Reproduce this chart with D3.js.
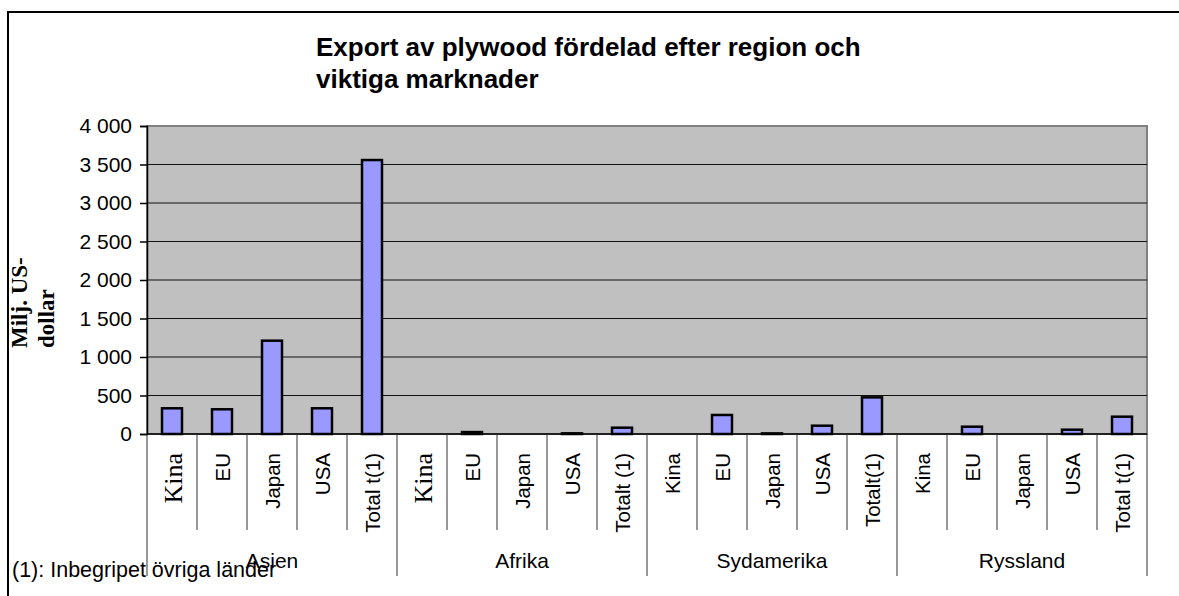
<html>
  <head>
    <script src="https://cdn.jsdelivr.net/npm/d3@7"></script>
    <meta charset="UTF-8">
    <style>
      body { margin: 0; background: #fff; }
      text { font-family: "Liberation Sans", Arial, sans-serif; fill: #000; }
    </style>
  </head>
  <body>
    <svg id="chart" width="1179" height="596"></svg>
    <script>
      // regioner och marknader
      var regions = ["Asien", "Afrika", "Sydamerika", "Ryssland"];
      var markets = [
        ["Kina", "EU", "Japan", "USA", "Total t(1)"],
        ["Kina", "EU", "Japan", "USA", "Totalt (1)"],
        ["Kina", "EU", "Japan", "USA", "Totalt(1)"],
        ["Kina", "EU", "Japan", "USA", "Total t(1)"]
      ];
      // Milj. US-dollar
      var asien = [334, 321, 1212, 334, 3558];
      var afrika = [0, 25, 0, 9, 82];
      var sydamerika = [0, 247, 8, 108, 476];
      var ryssland = [0, 95, 0, 56, 225];
      var values = [asien, afrika, sydamerika, ryssland];
      var yTicks = [0, 500, 1000, 1500, 2000, 2500, 3000, 3500, 4000];
      var title = ["Export av plywood fördelad efter region och", "viktiga marknader"];
      var footnote = "(1): Inbegripet övriga länder";

      var data = [];
      regions.forEach(function(r, ri) {
        markets[ri].forEach(function(m, mi) {
          data.push({ key: r + "|" + mi, region: r, ri: ri, label: m, value: values[ri][mi] });
        });
      });

      var svg = d3.select("#chart");
      var plotLeft = 147, plotRight = 1147, plotTop = 126, plotBottom = 434;

      var x = d3.scaleBand().domain(data.map(d => d.key)).range([plotLeft, plotRight]);
      var y = d3.scaleLinear().domain([0, 4000]).range([plotBottom, plotTop]);

      // yttre ram
      svg.append("path")
        .attr("d", "M8,596V12H1179")
        .attr("fill", "none").attr("stroke", "#000").attr("stroke-width", 2);

      // rubrik
      svg.append("text")
        .attr("x", 316).attr("y", 56)
        .style("font-size", "26px").style("font-weight", "bold")
        .selectAll("tspan").data(title).enter().append("tspan")
        .attr("x", 316).attr("dy", (d, i) => i ? 32 : 0)
        .text(d => d);

      // plotyta
      svg.append("rect")
        .attr("x", plotLeft).attr("y", plotTop)
        .attr("width", plotRight - plotLeft).attr("height", plotBottom - plotTop)
        .attr("fill", "#c0c0c0").attr("stroke", "#808080").attr("stroke-width", 2);

      svg.append("g").selectAll("line")
        .data(yTicks.filter(t => t > 0 && t < 4000))
        .enter().append("line")
        .attr("x1", plotLeft).attr("x2", plotRight)
        .attr("y1", d => y(d)).attr("y2", d => y(d))
        .attr("stroke", "#111").attr("stroke-width", 1);

      // staplar
      var bw = 20;
      svg.append("g").selectAll("rect")
        .data(data.filter(d => d.value > 0))
        .enter().append("rect")
        .attr("x", d => x(d.key) + x.bandwidth() / 2 - bw / 2)
        .attr("y", d => y(d.value))
        .attr("width", bw)
        .attr("height", d => plotBottom - y(d.value))
        .attr("fill", "#9999ff").attr("stroke", "#000").attr("stroke-width", 2.5);

      // y-axel
      var yAxis = svg.append("g")
        .attr("transform", "translate(" + plotLeft + ",0)")
        .call(d3.axisLeft(y).tickValues(yTicks).tickSize(7).tickPadding(8)
          .tickFormat(d => d3.format(",")(d).replace(",", " ")));
      yAxis.select(".domain").attr("stroke", "#000").attr("stroke-width", 1.5);
      yAxis.selectAll(".tick line").attr("stroke", "#000").attr("stroke-width", 1.5);
      yAxis.selectAll(".tick text")
        .style("font-size", "21px").style("font-family", "'Liberation Sans', Arial, sans-serif")
        .attr("fill", "#000");

      // x-axel linje
      svg.append("line")
        .attr("x1", plotLeft).attr("x2", plotRight).attr("y1", plotBottom).attr("y2", plotBottom)
        .attr("stroke", "#000").attr("stroke-width", 1.5);

      // kategoriavgränsare
      var edges = data.map((d, i) => i).concat([data.length]);
      svg.append("g").selectAll("line")
        .data(edges).enter().append("line")
        .attr("x1", i => plotLeft + i * x.bandwidth())
        .attr("x2", i => plotLeft + i * x.bandwidth())
        .attr("y1", plotBottom)
        .attr("y2", i => i % 5 === 0 ? 576 : 530)
        .attr("stroke", "#333").attr("stroke-width", 1);

      // kategorietiketter
      svg.append("g").selectAll("text")
        .data(data).enter().append("text")
        .attr("transform", d => "translate(" + (x(d.key) + x.bandwidth() / 2 + 1) + ",453) rotate(-90)")
        .attr("text-anchor", "end")
        .attr("dy", "0.35em")
        .style("font-size", d => (d.label === "Kina" && d.ri < 2) ? "26px" : "20.5px")
        .style("font-family", d => (d.label === "Kina" && d.ri < 2)
          ? "'Liberation Serif', 'Times New Roman', serif"
          : "'Liberation Sans', Arial, sans-serif")
        .text(d => d.label);

      // regionetiketter
      svg.append("g").selectAll("text")
        .data(regions).enter().append("text")
        .attr("x", (r, i) => plotLeft + (i * 5 + 2.5) * x.bandwidth())
        .attr("y", 568)
        .attr("text-anchor", "middle")
        .style("font-size", "21px")
        .text(r => r);

      // fotnot
      svg.append("text")
        .attr("x", 12).attr("y", 577)
        .style("font-size", "21.5px")
        .text(footnote);

      // y-axelns titel
      svg.append("g").selectAll("text")
        .data(["Milj. US-", "dollar"]).enter().append("text")
        .attr("transform", (d, i) => "translate(" + (i ? 46 : 18.5) + ",348) rotate(-90)")
        .attr("dy", "0.35em")
        .style("font-family", "'Liberation Serif', 'Times New Roman', serif")
        .style("font-weight", "bold")
        .style("font-size", "23px")
        .text(d => d);
    </script>
  </body>
</html>
